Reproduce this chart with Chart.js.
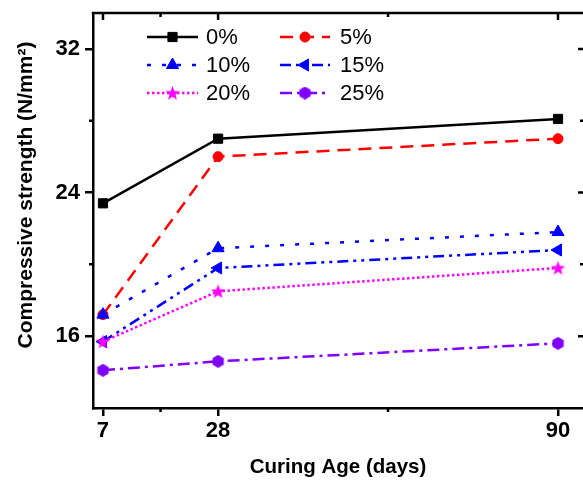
<!DOCTYPE html>
<html>
<head>
<meta charset="utf-8">
<script src="https://cdn.jsdelivr.net/npm/chart.js@4.4.1/dist/chart.umd.min.js"></script>
<style>
  body { margin: 0; background: #fff; }
  canvas { display: block; }
</style>
</head>
<body>
<canvas id="chart" width="583" height="482"></canvas>
<script>
// Druckfestigkeit je nach Ersatzanteil
const curingDays = [7, 28, 90];
const seriesLabels = ['0%', '5%', '10%', '15%', '20%', '25%'];
const s0 = [23.4, 27.0, 28.1];
const s5 = [17.2, 26.0, 27.0];
const s10 = [17.2, 20.9, 21.8];
const s15 = [15.7, 19.8, 20.8];
const s20 = [15.7, 18.5, 19.8];
const s25 = [14.1, 14.6, 15.6];
const yMajorTicks = [16, 24, 32];
const yMinorTicks = [20, 28];
const xMinorTicks = [17.5, 59];
const yTitle = 'Compressive strength (N/mm²)';

const FONT = "'Liberation Sans', Arial, sans-serif";

// gefuellter Stern als Punktsymbol
function makeStar(color, size) {
    const c = document.createElement('canvas');
    c.width = size; c.height = size;
    const g = c.getContext('2d');
    const cx = size / 2, cy = size / 2 + 0.6, R = size / 2, r = R * 0.42;
    g.beginPath();
    for (let i = 0; i < 10; i++) {
        const rad = i % 2 === 0 ? R : r;
        const a = -Math.PI / 2 + i * Math.PI / 5;
        const px = cx + rad * Math.cos(a), py = cy + rad * Math.sin(a);
        if (i === 0) g.moveTo(px, py); else g.lineTo(px, py);
    }
    g.closePath();
    g.fillStyle = color;
    g.fill();
    return c;
}

// Sechseck als Punktsymbol
function makeHexagon(color, size) {
    const c = document.createElement('canvas');
    c.width = size; c.height = size;
    const g = c.getContext('2d');
    const cx = size / 2, cy = size / 2, R = size / 2;
    g.beginPath();
    for (let i = 0; i < 6; i++) {
        const a = -Math.PI / 2 + i * Math.PI / 3;
        const px = cx + R * Math.cos(a), py = cy + R * Math.sin(a);
        if (i === 0) g.moveTo(px, py); else g.lineTo(px, py);
    }
    g.closePath();
    g.fillStyle = color;
    g.fill();
    return c;
}

const toPoints = vals => curingDays.map((d, i) => ({ x: d, y: vals[i] }));

const styles = [
    { color: '#000000', dash: [], point: 'rect', radius: 6.5, rot: 0 },
    { color: '#ff0000', dash: [13, 8], point: 'circle', radius: 5, rot: 0 },
    { color: '#0000ff', dash: [4, 11], point: 'triangle', radius: 7, rot: 0 },
    { color: '#0000ff', dash: [11, 5, 3, 5, 3, 5], point: 'triangle', radius: 7, rot: -90 },
    { color: '#ff00ff', dash: [2.5, 2.5], point: makeStar('#ff00ff', 15), radius: 7, rot: 0 },
    { color: '#8000ff', dash: [12, 5, 3, 5], point: makeHexagon('#8000ff', 13), radius: 6, rot: 0 }
];
const seriesValues = [s0, s5, s10, s15, s20, s25];

const datasets = seriesLabels.map((label, i) => ({
    label: label,
    data: toPoints(seriesValues[i]),
    borderColor: styles[i].color,
    backgroundColor: styles[i].color,
    pointBackgroundColor: styles[i].color,
    pointBorderColor: styles[i].color,
    borderWidth: 2.5,
    borderDash: styles[i].dash,
    pointStyle: styles[i].point,
    pointRadius: styles[i].radius,
    pointRotation: styles[i].rot,
    pointBorderWidth: 1,
    tension: 0,
    clip: false,
    order: seriesLabels.length - i
}));

// Legende im Diagramm, zwei Spalten
const legendInside = {
    id: 'legendInside',
    afterDraw(chart) {
        const ctx = chart.ctx;
        const cols = [
            { x0: 147, x1: 198, tx: 206 },
            { x0: 280, x1: 330, tx: 340 }
        ];
        chart.data.datasets.forEach((ds, i) => {
            const c = cols[i % 2];
            const y = 37 + Math.floor(i / 2) * 28;
            ctx.save();
            ctx.strokeStyle = ds.borderColor;
            ctx.lineWidth = ds.borderWidth;
            ctx.setLineDash(ds.borderDash || []);
            ctx.beginPath();
            ctx.moveTo(c.x0, y);
            ctx.lineTo(c.x1, y);
            ctx.stroke();
            ctx.setLineDash([]);
            ctx.fillStyle = ds.pointBackgroundColor;
            ctx.lineWidth = 1;
            Chart.helpers.drawPoint(ctx, {
                pointStyle: ds.pointStyle,
                radius: ds.pointRadius,
                rotation: ds.pointRotation || 0,
                borderWidth: 1
            }, (c.x0 + c.x1) / 2, y);
            ctx.fillStyle = '#000';
            ctx.font = '22px ' + FONT;
            ctx.textAlign = 'left';
            ctx.textBaseline = 'middle';
            ctx.fillText(ds.label, c.tx, y + 1);
            ctx.restore();
        });
    }
};

// Rahmen oben, Ticks oben/rechts, Neben-Ticks und y-Titel
const frameTicks = {
    id: 'frameTicks',
    afterDraw(chart) {
        const ctx = chart.ctx;
        const a = chart.chartArea;
        const xs = chart.scales.x, ys = chart.scales.y;
        const right = a.right + 1;
        ctx.save();
        ctx.strokeStyle = '#000';
        ctx.lineWidth = 2.5;
        ctx.beginPath();
        ctx.moveTo(a.left - 1.25, a.top);
        ctx.lineTo(right, a.top);
        // oben, nach innen
        curingDays.forEach(d => {
            const x = xs.getPixelForValue(d);
            ctx.moveTo(x, a.top); ctx.lineTo(x, a.top + 7);
        });
        xMinorTicks.forEach(d => {
            const x = xs.getPixelForValue(d);
            ctx.moveTo(x, a.top); ctx.lineTo(x, a.top + 4);
            ctx.moveTo(x, a.bottom); ctx.lineTo(x, a.bottom + 4);
        });
        // rechts, nach innen
        yMajorTicks.forEach(v => {
            const y = ys.getPixelForValue(v);
            ctx.moveTo(right, y); ctx.lineTo(right - 6, y);
        });
        yMinorTicks.forEach(v => {
            const y = ys.getPixelForValue(v);
            ctx.moveTo(right, y); ctx.lineTo(right - 4, y);
            ctx.moveTo(a.left, y); ctx.lineTo(a.left - 4, y);
        });
        ctx.stroke();

        // y-Achsentitel, etwas oberhalb der Mitte wie im Original
        ctx.translate(26, 195);
        ctx.rotate(-Math.PI / 2);
        ctx.fillStyle = '#000';
        ctx.font = 'bold 21px ' + FONT;
        ctx.textAlign = 'center';
        ctx.textBaseline = 'middle';
        ctx.fillText(yTitle, 0, 0);
        ctx.restore();
    }
};

const noPad = s => { s.paddingTop = 0; s.paddingBottom = 0; s.paddingLeft = 0; s.paddingRight = 0; };

new Chart(document.getElementById('chart'), {
    type: 'line',
    data: { datasets: datasets },
    plugins: [frameTicks, legendInside],
    options: {
        responsive: false,
        animation: false,
        layout: { autoPadding: false, padding: { top: 13, right: 0, left: 0, bottom: 0 } },
        plugins: {
            legend: { display: false },
            tooltip: { enabled: false }
        },
        scales: {
            x: {
                type: 'linear',
                min: 5.18,
                max: 94.56,
                afterBuildTicks: s => { s.ticks = curingDays.map(v => ({ value: v })); },
                afterFit: s => { s.height = 74; noPad(s); },
                grid: { display: true, drawOnChartArea: false, drawTicks: true, tickLength: 8, lineWidth: 2.5, tickWidth: 2.5, tickColor: '#000' },
                border: { display: true, color: '#000', width: 2.5 },
                ticks: {
                    color: '#000',
                    padding: 2,
                    maxRotation: 0,
                    font: { family: FONT, size: 22, weight: 'bold' }
                },
                title: {
                    display: true,
                    text: 'Curing Age (days)',
                    color: '#000',
                    padding: { top: 0, bottom: 2 },
                    font: { family: FONT, size: 20.5, weight: 'bold' }
                }
            },
            y: {
                min: 12,
                max: 34,
                afterBuildTicks: s => { s.ticks = yMajorTicks.map(v => ({ value: v })); },
                afterFit: s => { s.width = 93; noPad(s); },
                grid: { display: true, drawOnChartArea: false, drawTicks: true, tickLength: 8, lineWidth: 2.5, tickWidth: 2.5, tickColor: '#000' },
                border: { display: true, color: '#000', width: 2.5 },
                ticks: {
                    color: '#000',
                    padding: 5,
                    font: { family: FONT, size: 22, weight: 'bold' }
                },
                title: { display: false }
            }
        }
    }
});
</script>
</body>
</html>
